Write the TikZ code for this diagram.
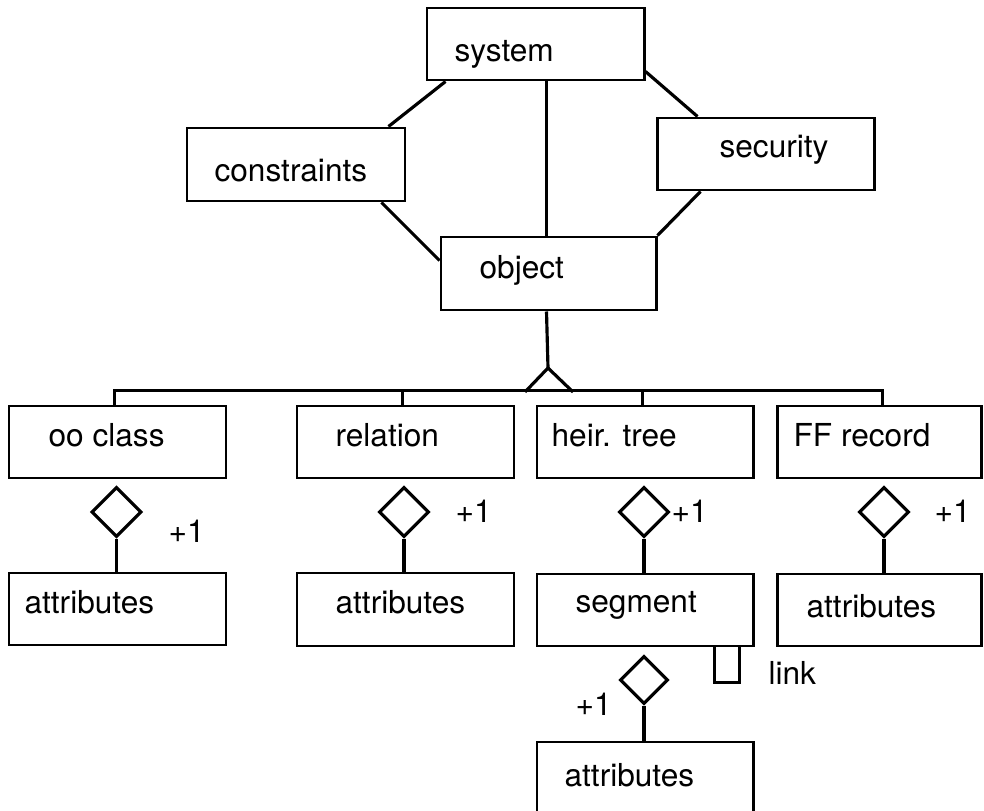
\documentclass[tikz,border=0pt]{standalone}
\usepackage{fontspec}
\setmainfont{TeX Gyre Heros}
\usetikzlibrary{calc,fit,shapes.geometric}
\begin{document}
\begin{tikzpicture}[x=0.02cm,y=-0.02cm,line width=1.8pt,line join=miter,
  box/.style={draw,rectangle,inner sep=0pt,line width=1.7pt},
  lbl/.style={anchor=base west,inner sep=0pt,font=\fontsize{18}{22}\selectfont},
  agg/.style={draw,diamond,aspect=1,inner sep=0pt,minimum width=1cm,minimum height=1cm}]
\useasboundingbox (0,0) rectangle (984,811);

% upper group
\node[box,fit={(427,8) (644,80)}] (system) {};
\node[lbl] (system-t) at (453,62) {system};
\node[box,fit={(187,128) (405,201)}] (constraints) {};
\node[lbl] (constraints-t) at (213,181) {constraints};
\node[box,fit={(657,118) (874,190)}] (security) {};
\node[lbl] (security-t) at (718,157) {security};
\node[box,fit={(441,237) (656,310)}] (object) {};
\node[lbl] (object-t) at (478,278) {object};

\draw ($(system.south west)+(20,0)$) -- ($(constraints.north east)+(-18,0)$);
\draw ($(system.north east)+(0,65)$) -- ($(security.north west)+(42,0)$);
\draw ($(system.south west)+(121,0)$) -- ($(object.north west)+(107,0)$);
\draw ($(constraints.south east)+(-25,0)$) -- ($(object.north west)+(0,25)$);
\draw ($(security.south west)+(45,0)$) -- (object.north east);

% generalisation
\coordinate (apex) at (548,368);
\draw ($(object.south west)+(107,0)$) -- (apex);

\node[box,fit={(9,406) (226,478)}] (ooclass) {};
\node[lbl] (ooclass-t) at (47,446) {oo class};
\node[box,fit={(297,406) (514,478)}] (relation) {};
\node[lbl] (relation-t) at (334,446) {relation};
\node[box,fit={(537,406) (753,478)}] (heirtree) {};
\node[lbl] (heirtree-t) at (550,446) {heir. tree};
\node[box,fit={(777,406) (981,478)}] (ffrecord) {};
\node[lbl] (ffrecord-t) at (792,446) {FF record};

\draw ($(ooclass.north west)+(107,0)$) |- ($(ffrecord.north west)+(107,-14)$)
      -- ($(ffrecord.north west)+(107,0)$);
\draw ($(relation.north west)+(107,0)$) -- ++(0,-14);
\draw ($(heirtree.north west)+(107,0)$) -- ++(0,-14);
\draw ($(apex)+(-23,24)$) -- (apex) -- ($(apex)+(25,24)$);

% aggregations
\node[box,fit={(9,573) (226,645)}] (ooattr) {};
\node[lbl] (ooattr-t) at (23,613) {attributes};
\node[box,fit={(297,573) (514,646)}] (relattr) {};
\node[lbl] (relattr-t) at (334,613) {attributes};
\node[box,fit={(537,574) (753,646)}] (segment) {};
\node[lbl] (segment-t) at (574,612) {segment};
\node[box,fit={(777,574) (981,646)}] (ffattr) {};
\node[lbl] (ffattr-t) at (805,617) {attributes};
\node[box,fit={(537,742) (753,818)}] (segattr) {};
\node[lbl] (segattr-t) at (563,786) {attributes};

\node[agg] (d-oo) at (116.5,512) {};
\node[agg] (d-rel) at (404,512) {};
\node[agg] (d-heir) at (644,512) {};
\node[agg] (d-ff) at (884,512) {};
\node[agg,minimum width=0.96cm,minimum height=0.96cm] (d-seg) at (644,680) {};

\draw (d-oo.south) -- (d-oo.south |- ooattr.north);
\draw (d-rel.south) -- (d-rel.south |- relattr.north);
\draw (d-heir.south) -- (d-heir.south |- segment.north);
\draw (d-ff.south) -- (d-ff.south |- ffattr.north);
\draw (d-seg.south) -- (d-seg.south |- segattr.north);

\node[lbl] (m-oo) at (167,542) {+1};
\node[lbl] (m-rel) at (454,522) {+1};
\node[lbl] (m-heir) at (670,522) {+1};
\node[lbl] (m-ff) at (933,522) {+1};
\node[lbl] (m-seg) at (574,715) {+1};

% self link on segment
\draw ($(segment.south west)+(179,0)$) -- ++(0,35) -- ++(25,0) -- ++(0,-35);
\node[lbl] (link-t) at (767,684) {link};
\end{tikzpicture}
\end{document}
